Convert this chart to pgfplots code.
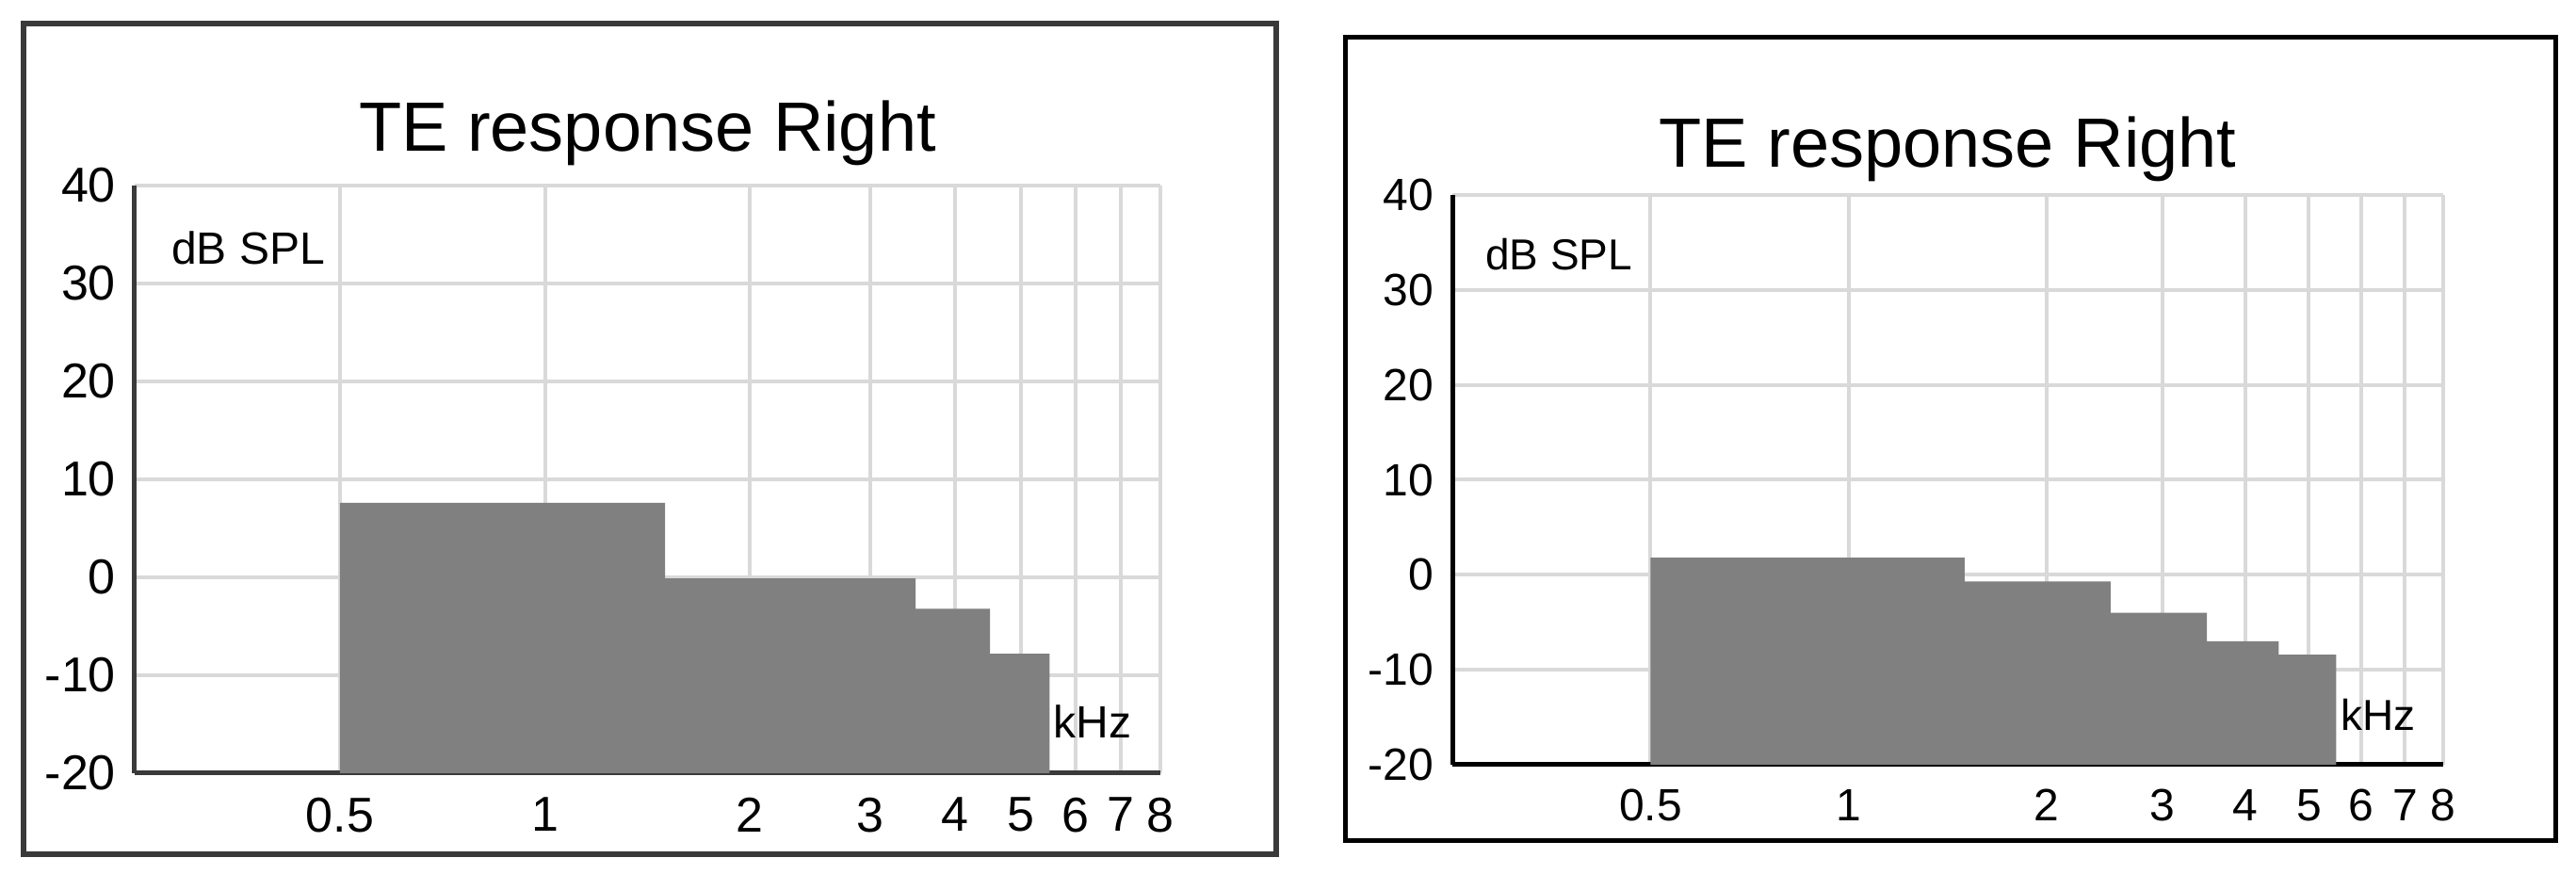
\documentclass[border=0pt]{standalone}
\usepackage{fontspec}
\setmainfont{Liberation Sans}
\usepackage{pgfplots}
\pgfplotsset{compat=1.18}
\definecolor{barfill}{RGB}{128,128,128}
\definecolor{gridc}{RGB}{217,217,217}
\definecolor{frameL}{RGB}{58,58,58}

\begin{document}
\begin{tikzpicture}
\path[use as bounding box, fill=white] (0,0) rectangle (683.75pt,232pt);

% left panel
\draw[frameL, line width=1.5pt] (6.25pt,5.25pt) rectangle (338.75pt,225.75pt);
\begin{semilogxaxis}[
  scale only axis, anchor=south west,
  at={(35.75pt,26.75pt)}, width=272.25pt, height=156pt,
  xmin=0.25, xmax=8, ymin=-20, ymax=40,
  xtick={0.5,1,2,3,4,5,6,7,8},
  xticklabels={0.5,1,2,3,4,5,6,7,8},
  ytick={-20,-10,0,10,20,30,40},
  yticklabels={-20,-10,0,10,20,30,40},
  axis x line=bottom, axis y line=left,
  axis line style={-, line width=1.25pt, frameL},
  major tick length=0pt,
  grid=major,
  major grid style={gridc, line width=1pt},
  clip=false,
  title={TE response Right},
  title style={at={(0.5,1)}, anchor=base, yshift=3pt, font=\fontsize{18.5}{20}\selectfont},
  tick label style={font=\fontsize{13}{13}\selectfont},
  xticklabel style={yshift=-3pt},
  yticklabel style={xshift=-1.5pt},
]
\addplot[const plot, fill=barfill, draw=none] coordinates {
  (0.5,-20) (0.5,7.6) (1.5,-0.1) (2.5,-0.1) (3.5,-3.2) (4.5,-7.8) (5.5,-7.8) (5.5,-20)
};
\node[anchor=west, font=\fontsize{12}{12}\selectfont] at (rel axis cs:0.023,0.893) {dB SPL};
\node[anchor=west, font=\fontsize{12}{12}\selectfont, inner sep=0pt] at (rel axis cs:0.895,0.088) {kHz};
\end{semilogxaxis}

% right panel
\draw[black, line width=1.25pt] (357pt,8.75pt) rectangle (678.25pt,222pt);
\begin{semilogxaxis}[
  scale only axis, anchor=south west,
  at={(385.5pt,29pt)}, width=263pt, height=151.25pt,
  xmin=0.25, xmax=8, ymin=-20, ymax=40,
  xtick={0.5,1,2,3,4,5,6,7,8},
  xticklabels={0.5,1,2,3,4,5,6,7,8},
  ytick={-20,-10,0,10,20,30,40},
  yticklabels={-20,-10,0,10,20,30,40},
  axis x line=bottom, axis y line=left,
  axis line style={-, line width=1.25pt, black},
  major tick length=0pt,
  grid=major,
  major grid style={gridc, line width=1pt},
  clip=false,
  title={TE response Right},
  title style={at={(0.5,1)}, anchor=base, yshift=1.25pt, font=\fontsize{18.5}{20}\selectfont},
  tick label style={font=\fontsize{12}{12}\selectfont},
  xticklabel style={yshift=-3pt},
  yticklabel style={xshift=-1.5pt},
]
\addplot[const plot, fill=barfill, draw=none] coordinates {
  (0.5,-20) (0.5,1.8) (1.5,-0.7) (2.5,-4.0) (3.5,-7.0) (4.5,-8.4) (5.5,-8.4) (5.5,-20)
};
\node[anchor=west, font=\fontsize{11.5}{12}\selectfont] at (rel axis cs:0.020,0.896) {dB SPL};
\node[anchor=west, font=\fontsize{11.5}{12}\selectfont, inner sep=0pt] at (rel axis cs:0.896,0.088) {kHz};
\end{semilogxaxis}
\end{tikzpicture}
\end{document}
